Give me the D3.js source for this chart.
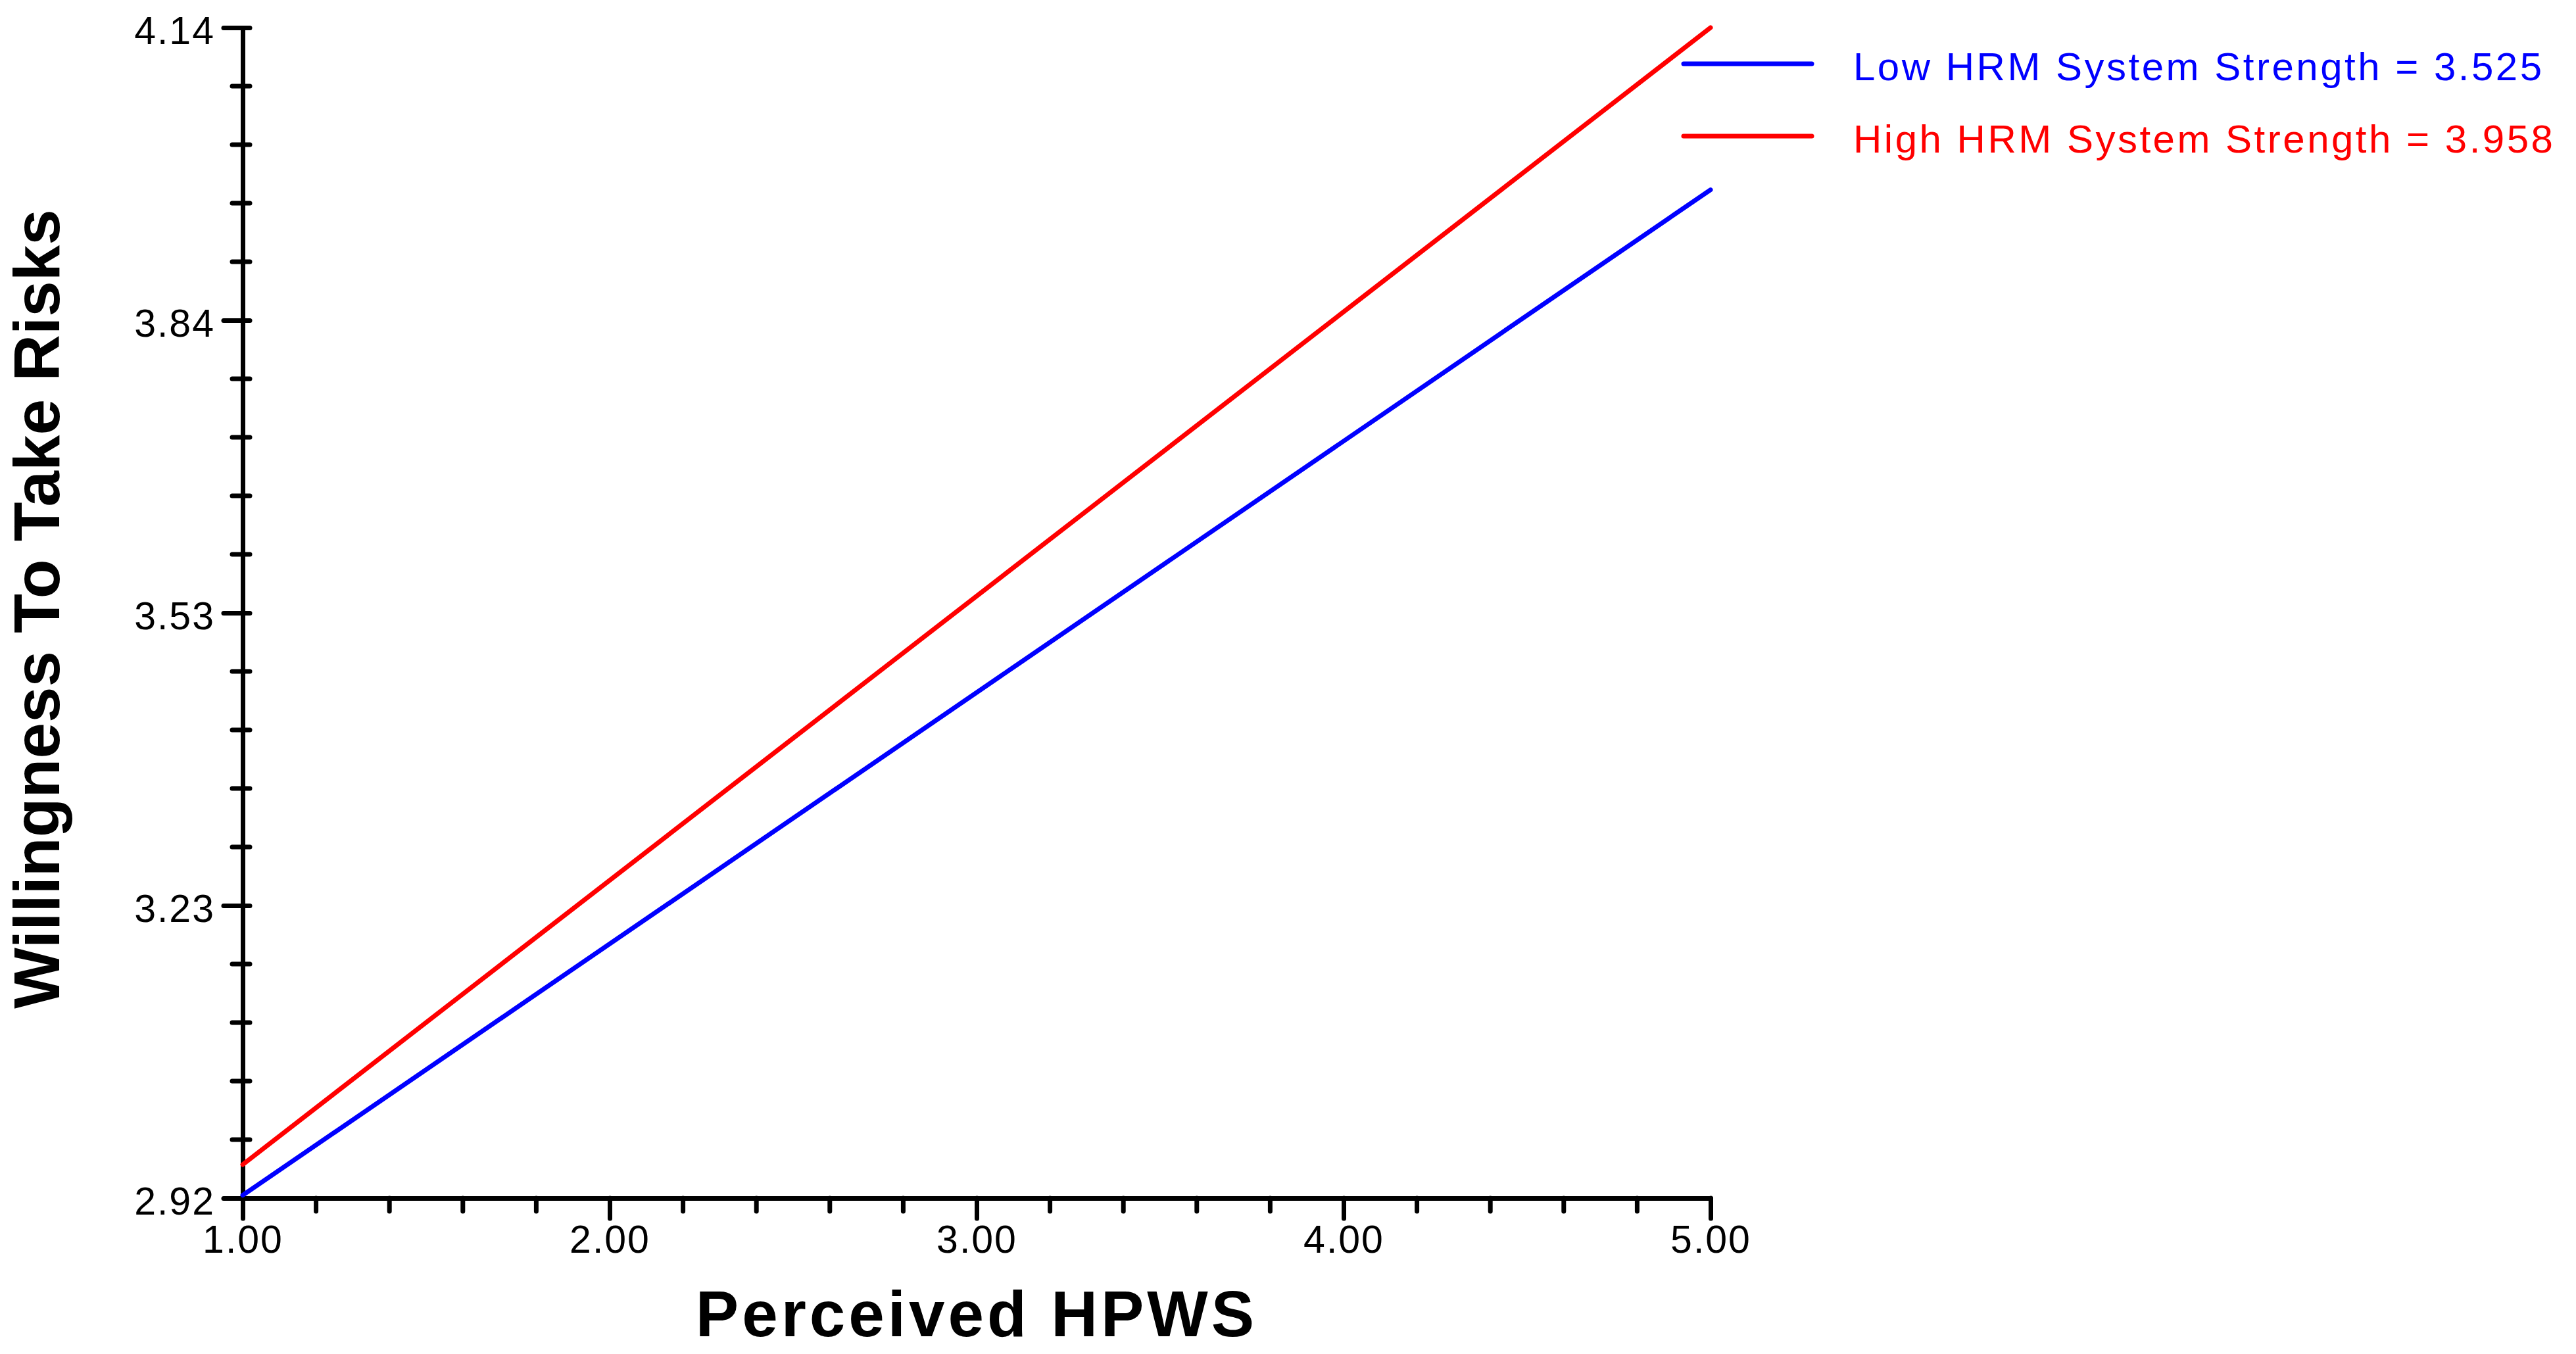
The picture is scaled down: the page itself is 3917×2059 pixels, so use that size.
<!DOCTYPE html>
<html>
<head>
<meta charset="utf-8">
<script src="https://cdnjs.cloudflare.com/ajax/libs/d3/7.8.5/d3.min.js"></script>
<style>
  html, body { margin: 0; padding: 0; background: #fff; }
  svg { display: block; }
  text { font-family: "Liberation Sans", Arial, sans-serif; }
</style>
</head>
<body>
<svg id="chart" width="3917" height="2059"></svg>
<script>
"use strict";

// data
var xValues = [1.00, 5.00];
var lowValues = [2.923, 3.971];
var highValues = [2.955, 4.140];
var seriesNames = ["Low HRM System Strength = 3.525", "High HRM System Strength = 3.958"];
var seriesColors = ["#0000ff", "#ff0000"];
var xTickValues = [1, 2, 3, 4, 5];
var xTickLabels = ["1.00", "2.00", "3.00", "4.00", "5.00"];
var yTickValues = [2.92, 3.225, 3.53, 3.835, 4.14];
var yTickLabels = ["2.92", "3.23", "3.53", "3.84", "4.14"];

var margin = { left: 369, top: 42 };
var width = 2232, height = 1780;

var svg = d3.select("#chart");
svg.append("rect").attr("width", 3917).attr("height", 2059).attr("fill", "#fff");

var g = svg.append("g")
    .attr("transform", "translate(" + margin.left + "," + margin.top + ")");

var x = d3.scaleLinear().domain([1, 5]).range([0, width]);
var y = d3.scaleLinear().domain([2.92, 4.14]).range([height, 0]);

// minor ticks: 5 per major interval
var xMinor = d3.range(0, 21).map(function (i) { return 1 + i * 0.2; })
    .filter(function (v, i) { return i % 5 !== 0; });
var yMinor = d3.range(0, 21).map(function (i) { return 2.92 + i * 0.061; })
    .filter(function (v, i) { return i % 5 !== 0; });

// y axis
var yAxis = g.append("g").attr("class", "y axis")
    .call(d3.axisLeft(y)
        .tickValues(yTickValues)
        .tickFormat(function (d, i) { return yTickLabels[i]; })
        .tickSize(29)
        .tickSizeOuter(0)
        .tickPadding(13));
yAxis.selectAll(".tick line").attr("x1", 11);
yAxis.selectAll(".tick text").attr("dy", "0.41em");

g.append("g").attr("class", "y minor")
    .selectAll("line")
    .data(yMinor)
    .enter()
    .append("line")
    .attr("x1", -16)
    .attr("x2", 11)
    .attr("y1", function (d) { return y(d); })
    .attr("y2", function (d) { return y(d); });

// x axis
var xAxis = g.append("g").attr("class", "x axis")
    .attr("transform", "translate(0," + height + ")")
    .call(d3.axisBottom(x)
        .tickValues(xTickValues)
        .tickFormat(function (d, i) { return xTickLabels[i]; })
        .tickSize(31)
        .tickSizeOuter(0)
        .tickPadding(10));

g.append("g").attr("class", "x minor")
    .attr("transform", "translate(0," + height + ")")
    .selectAll("line")
    .data(xMinor)
    .enter()
    .append("line")
    .attr("x1", function (d) { return x(d); })
    .attr("x2", function (d) { return x(d); })
    .attr("y1", 0)
    .attr("y2", 20);

g.selectAll(".axis path.domain, .axis .tick line, .minor line")
    .attr("stroke", "#000")
    .attr("stroke-width", 7)
    .attr("stroke-linecap", "round");

g.selectAll(".axis .tick text")
    .attr("fill", "#000")
    .style("font-size", "59px")
    .style("letter-spacing", "2px");
g.selectAll(".axis").attr("font-size", null).attr("font-family", null);

// lines
var line = d3.line()
    .x(function (d, i) { return x(xValues[i]); })
    .y(function (d) { return y(d); });

g.selectAll("path.series")
    .data([lowValues, highValues])
    .enter()
    .append("path")
    .attr("class", "series")
    .attr("d", line)
    .attr("fill", "none")
    .attr("stroke", function (d, i) { return seriesColors[i]; })
    .attr("stroke-width", 7)
    .attr("stroke-linecap", "round");

// legend
var legend = svg.append("g").attr("class", "legend")
    .selectAll("g")
    .data(seriesNames)
    .enter()
    .append("g")
    .attr("transform", function (d, i) { return "translate(2560," + (97 + i * 110) + ")"; });

legend.append("line")
    .attr("x1", 0)
    .attr("x2", 195)
    .attr("stroke", function (d, i) { return seriesColors[i]; })
    .attr("stroke-width", 7)
    .attr("stroke-linecap", "round");

legend.append("text")
    .attr("x", 258)
    .attr("y", 25)
    .attr("fill", function (d, i) { return seriesColors[i]; })
    .style("font-size", "60px")
    .style("letter-spacing", "3.5px")
    .text(function (d) { return d; });

// axis titles
svg.append("text")
    .attr("x", margin.left + width / 2)
    .attr("y", 2032)
    .attr("text-anchor", "middle")
    .style("font-size", "98px")
    .style("font-weight", "bold")
    .style("letter-spacing", "5px")
    .text("Perceived HPWS");

svg.append("text")
    .attr("transform", "translate(90," + (margin.top + height / 2 - 6) + ") rotate(-90)")
    .attr("text-anchor", "middle")
    .style("font-size", "98px")
    .style("font-weight", "bold")
    .text("Willingness To Take Risks");
</script>
</body>
</html>
